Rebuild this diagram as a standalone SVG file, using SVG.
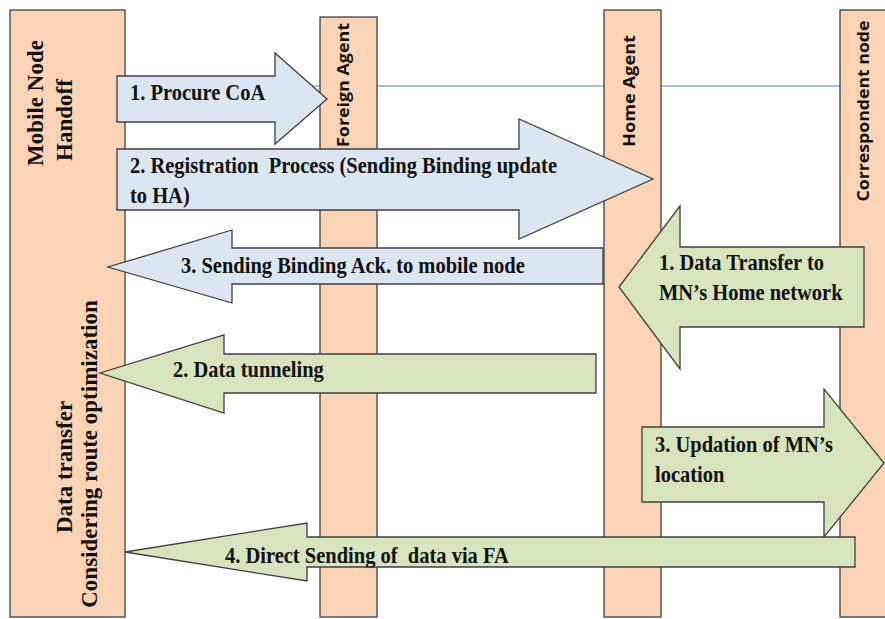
<svg xmlns="http://www.w3.org/2000/svg" width="885" height="619" viewBox="0 0 885 619">
<defs>
<style>
.life{fill:#FBD4B5;stroke:#3F3F3F;stroke-width:1.3}
.blue{fill:#DCE6F2;stroke:#3F3F3F;stroke-width:1.3}
.green{fill:#D7E4BD;stroke:#3F3F3F;stroke-width:1.3}
.lbl{font-family:"Liberation Serif","Times New Roman",serif;font-weight:bold;font-size:20.5px;fill:#111}
.vlbl{font-family:"Liberation Serif","Times New Roman",serif;font-weight:bold;font-size:23px;fill:#111;text-anchor:middle}
.slbl{font-family:"Open Sans","DejaVu Sans",sans-serif;font-weight:bold;font-size:16px;fill:#111;text-anchor:middle}
</style>
<clipPath id="clip4"><rect x="-120" y="-30" width="740" height="34"/></clipPath>
</defs>
<rect width="885" height="619" fill="#fff"/>
<g id="connectors-line">
<line x1="300" y1="86" x2="840" y2="86" stroke="#4F81BD" stroke-width="1.2"/>
</g>
<g id="mobile-node">
<rect class="life" x="10" y="10" width="115" height="607"/>
<text class="vlbl" transform="translate(43,103) rotate(-90)">Mobile Node</text>
<text class="vlbl" transform="translate(72,120) rotate(-90)">Handoff</text>
<text class="vlbl" transform="translate(72,467) rotate(-90)">Data transfer</text>
<text class="vlbl" transform="translate(97,454) rotate(-90)">Considering route optimization</text>
</g>
<g id="foreign-agent">
<rect class="life" x="320" y="17" width="57" height="600"/>
<text class="slbl" transform="translate(349,85) rotate(-90)" textLength="124" lengthAdjust="spacingAndGlyphs">Foreign Agent</text>
</g>
<g id="home-agent">
<rect class="life" x="604" y="10" width="57" height="607"/>
<text class="slbl" transform="translate(635,91) rotate(-90)" textLength="112" lengthAdjust="spacingAndGlyphs">Home Agent</text>
</g>
<g id="correspondent-node">
<rect class="life" x="840" y="10" width="60" height="607"/>
<text class="slbl" transform="translate(869,111) rotate(-90)" textLength="181" lengthAdjust="spacingAndGlyphs">Correspondent node</text>
</g>
<g id="connectors">
<g id="a1">
<polygon class="blue" points="117,76 275,76 275,53 327,99 275,144 275,122 117,122"/>
<text class="lbl" transform="translate(130,100) scale(1,1.1)">1. Procure CoA</text>
</g>
<g id="a2">
<polygon class="blue" points="117,149 519,149 519,119 653,179 519,239 519,210 117,210"/>
<text class="lbl" transform="translate(130,173) scale(1,1.1)" xml:space="preserve">2. Registration  Process (Sending Binding update</text>
<text class="lbl" transform="translate(130,203) scale(1,1.1)">to HA)</text>
</g>
<g id="a3">
<polygon class="blue" points="603,248 232,248 232,230 108,267 232,303 232,284 603,284"/>
<text class="lbl" transform="translate(181,273) scale(1,1.1)">3. Sending Binding Ack. to mobile node</text>
</g>
<g id="g1">
<polygon class="green" points="864,247 680,247 680,206 619,287 680,369 680,327 864,327"/>
<text class="lbl" transform="translate(659,270) scale(1,1.1)">1. Data Transfer to</text>
<text class="lbl" transform="translate(659,300) scale(1,1.1)">MN’s Home network</text>
</g>
<g id="g2">
<polygon class="green" points="596,354 224,354 224,335 100,373 224,413 224,393 596,393"/>
<text class="lbl" transform="translate(173,377) scale(1,1.1)">2. Data tunneling</text>
</g>
<g id="g3">
<polygon class="green" points="642,427 824,427 824,389 884,463 824,537 824,502 642,502"/>
<text class="lbl" transform="translate(655,452) scale(1,1.1)">3. Updation of MN’s</text>
<text class="lbl" transform="translate(655,482) scale(1,1.1)">location</text>
</g>
<g id="g4">
<polygon class="green" points="855,537 307,537 307,523 125,552 307,581 307,567 855,567"/>
<text class="lbl" transform="translate(225,563) scale(1,1.1)" clip-path="url(#clip4)" xml:space="preserve">4. Direct Sending of  data via FA</text>
</g>
</g>
</svg>
